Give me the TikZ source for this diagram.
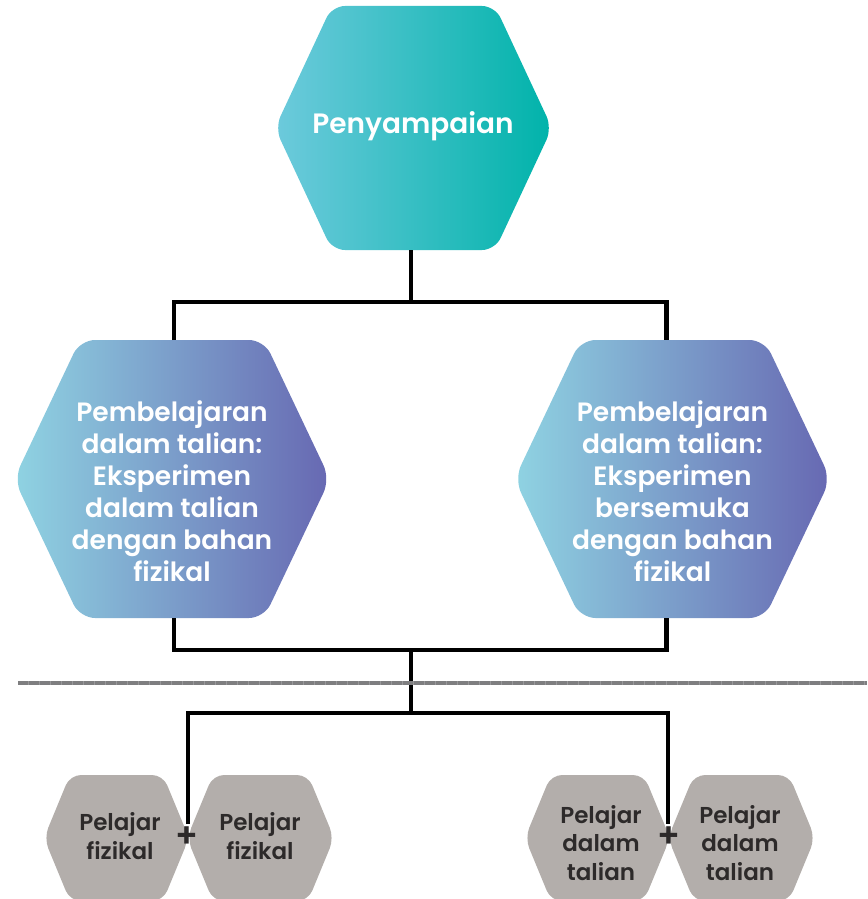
\documentclass[tikz,border=0pt]{standalone}
\usepackage{fontspec}
\setmainfont{Poppins SemiBold}
\usetikzlibrary{calc,backgrounds}

\definecolor{tealL}{HTML}{6DCADC}
\definecolor{tealR}{HTML}{00B3AA}
\definecolor{blueL}{HTML}{8FD3E2}
\definecolor{blueR}{HTML}{6768B2}
\definecolor{stone}{HTML}{B3AEAB}
\definecolor{ink}{HTML}{2D2A2A}
\definecolor{ruleGrey}{HTML}{7E7E80}
\definecolor{ruleLight}{HTML}{98989A}

% hexagon outline around a node: pointed left/right, flat top/bottom
\newcommand\hexoutline[2]{(#1.west) -- ($(#1.north west)+(#2,0)$) -- ($(#1.north east)+(-#2,0)$) -- (#1.east) -- ($(#1.south east)+(-#2,0)$) -- ($(#1.south west)+(#2,0)$) -- cycle}

\tikzset{
  hexbox/.style={inner sep=0pt, outer sep=0pt, minimum width=#1},
  bigtext/.style={text=white, align=center, font=\fontsize{28}{32}\selectfont},
  midtext/.style={text=white, align=center, font=\fontsize{26.5}{32}\selectfont},
  smalltext/.style={text=ink, align=center, font=\fontsize{23}{28.5}\selectfont},
  plussign/.style={text=ink, font=\fontsize{34}{34}\selectfont},
  wire/.style={line width=4.5pt, black},
}

\begin{document}
\begin{tikzpicture}[x=1pt, y=-1pt]
\useasboundingbox (0,0) rectangle (867,899);

% --- hexagon frames ---
\node[hexbox=277, minimum height=244] (top) at (413.5,128) {};
\node[hexbox=316, minimum height=278] (midL) at (172,479) {};
\node[hexbox=316, minimum height=278] (midR) at (672.5,479) {};
\node[hexbox=145, minimum height=126] (stA) at (116.5,838) {};
\node[hexbox=147, minimum height=126] (stB) at (260.5,838) {};
\node[hexbox=145, minimum height=126] (stC) at (597.5,838) {};
\node[hexbox=147, minimum height=126] (stD) at (741.5,838) {};

\begin{scope}[on background layer]
  \shade[left color=tealL, right color=tealR, rounded corners=13pt] \hexoutline{top}{57};
  \shade[left color=blueL, right color=blueR, rounded corners=15pt] \hexoutline{midL}{66};
  \shade[left color=blueL, right color=blueR, rounded corners=15pt] \hexoutline{midR}{66};
  \fill[stone, rounded corners=11pt] \hexoutline{stA}{26};
  \fill[stone, rounded corners=11pt] \hexoutline{stB}{26};
  \fill[stone, rounded corners=11pt] \hexoutline{stC}{26};
  \fill[stone, rounded corners=11pt] \hexoutline{stD}{26};
\end{scope}

% --- labels ---
\node[bigtext] (topT) at (413,126) {Penyampaian};
\node[midtext] (midLT) at (172,491) {Pembelajaran\\dalam talian:\\Eksperimen\\dalam talian\\dengan bahan\\fizikal};
\node[midtext] (midRT) at (672.5,491) {Pembelajaran\\dalam talian:\\Eksperimen\\bersemuka\\dengan bahan\\fizikal};
\node[smalltext] (stAT) at (120,836) {Pelajar\\fizikal};
\node[smalltext] (stBT) at (260,836) {Pelajar\\fizikal};
\node[smalltext] (stCT) at (601,843) {Pelajar\\dalam\\talian};
\node[smalltext] (stDT) at (740,843) {Pelajar\\dalam\\talian};
\node[plussign] (plusL) at (187,837) {+};
\node[plussign] (plusR) at (669,837) {+};

% --- connectors ---
\coordinate (splitUp) at (411,302);
\coordinate (joinDown) at (411,650);
\coordinate (splitLow) at (411,713);
\coordinate (tipL) at (188,824);
\coordinate (tipR) at (668,824);
\coordinate (ruleA) at (18,683);
\coordinate (ruleB) at (867,683);

\draw[wire] (top.south -| splitUp) -- (splitUp);
\draw[wire] ($(midL.north)+(2,0)$) |- (splitUp) -| ($(midR.north)+(-6,0)$);
\draw[wire] ($(midL.south)+(2,0)$) |- (joinDown) -| ($(midR.south)+(-6,0)$);
\draw[wire] (joinDown) -- (splitLow);
\draw[wire] (tipL) |- (splitLow) -| (tipR);

% finely broken separator rule
\draw[ruleLight, line width=3.5pt] (ruleA) -- (ruleB);
\draw[ruleGrey, line width=3.5pt, dash pattern=on 10pt off 1pt] (ruleA) -- (ruleB);
\end{tikzpicture}
\end{document}
